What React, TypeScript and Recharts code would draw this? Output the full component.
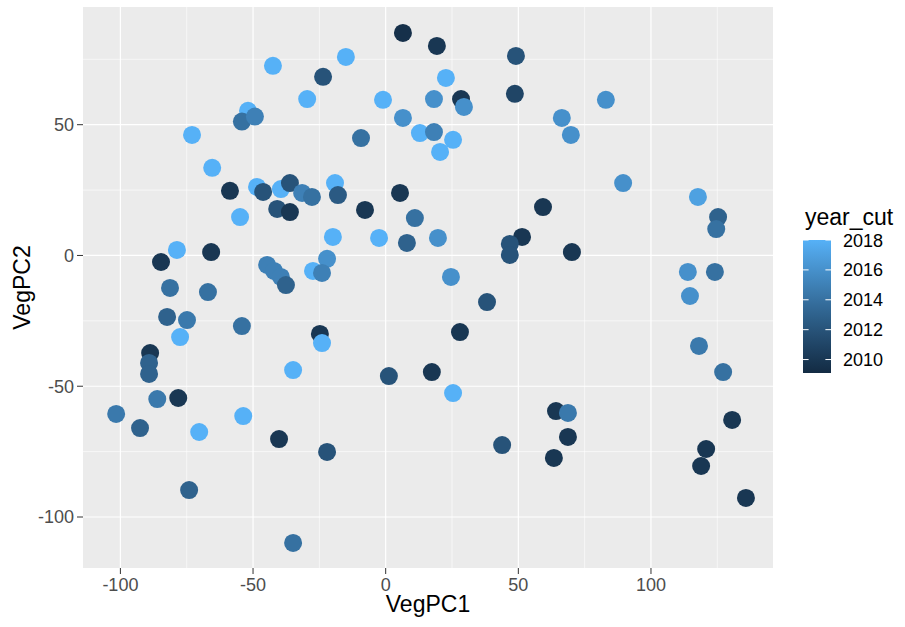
import React from 'react';
import { ScatterChart, Scatter, XAxis, YAxis, CartesianGrid } from 'recharts';

// VegPC1 / VegPC2 scores and the year of each site
const vegPC1 = [
  -42.5, -29.6, -51.9, -54.2, -49.3, -73.0, -65.4, -58.7, -48.5, -46.2,
  -39.5, -36.1, -31.5, -27.8, 6.5, 19.3, 49.1, -15.0, -23.6, 22.7,
  -1.0, 18.2, 28.4, 29.5, 48.7, 6.5, 12.9, 18.2, 25.4, 20.5,
  -9.3, -19.1, -18.0, 5.4, 83.0, 66.4, 69.8, 89.5, 117.7, 59.3,
  -54.9, -40.9, -36.1, -78.7, -84.7, -65.8, -81.3, -67.0, -44.7, -42.1,
  -39.5, -37.6, -82.4, -74.9, -77.5, -54.2, -88.8, -89.2, -89.2, -34.9,
  -7.8, 11.0, -19.9, -2.5, 8.0, 19.7, 51.4, 46.8, 46.8, -22.1,
  -27.4, -24.0, 24.6, 38.2, -24.8, -24.0, 28.0, 1.2, 17.4, 25.4,
  70.2, 125.3, 124.6, 113.9, 124.1, 114.7, 118.1, 127.2, -86.1, -78.2,
  -101.6, -92.6, -53.7, -70.3, -40.2, -74.1, -34.9, -22.1, 43.9, 64.2,
  68.7, 68.7, 63.4, 130.6, 120.8, 118.9, 135.8,
];
const vegPC2 = [
  72.5, 59.8, 55.3, 51.2, 53.1, 46.1, 33.5, 24.7, 26.2, 24.3,
  25.4, 27.7, 23.9, 22.4, 85.1, 80.1, 76.3, 75.9, 68.3, 67.9,
  59.5, 59.8, 59.8, 56.8, 61.8, 52.6, 46.8, 47.2, 44.2, 39.6,
  44.9, 27.7, 23.1, 23.9, 59.5, 52.6, 46.1, 27.7, 22.4, 18.5,
  14.7, 17.8, 16.6, 2.1, -2.5, 1.3, -12.4, -14.0, -3.6, -5.9,
  -8.2, -11.3, -23.5, -24.7, -31.2, -27.0, -37.3, -41.1, -45.3, -43.8,
  17.4, 14.3, 7.1, 6.7, 4.8, 6.7, 7.1, 4.4, 0.2, -1.3,
  -5.9, -6.7, -8.2, -17.8, -30.0, -33.5, -29.3, -46.1, -44.6, -52.6,
  1.3, 14.7, 10.1, -6.3, -6.3, -15.5, -34.6, -44.6, -54.9, -54.5,
  -60.6, -66.0, -61.4, -67.5, -70.2, -89.7, -109.9, -75.1, -72.5, -59.5,
  -60.2, -69.4, -77.4, -62.9, -74.0, -80.5, -92.7,
];
const yearCut = [
  2018, 2018, 2018, 2014, 2015, 2018, 2018, 2010, 2018, 2012,
  2018, 2012, 2015, 2014, 2009.5, 2010, 2012, 2018, 2012, 2018,
  2018, 2016, 2010, 2016, 2011, 2016, 2018, 2015, 2018, 2018,
  2014, 2018, 2012.5, 2010, 2016, 2016, 2016, 2016, 2017, 2010,
  2018, 2012, 2010, 2018, 2010, 2010, 2014, 2014, 2015, 2015,
  2015, 2013, 2013, 2014.5, 2018, 2014, 2010, 2013, 2013, 2018,
  2010, 2014, 2018, 2018, 2013, 2016, 2010, 2012, 2012, 2016,
  2018, 2015, 2016, 2012, 2010, 2018, 2010, 2012, 2010, 2018,
  2010, 2013, 2014, 2016, 2014, 2016, 2014.5, 2014, 2014.5, 2010,
  2014.5, 2013, 2018, 2018, 2010, 2013, 2014, 2012, 2012, 2010,
  2014.5, 2010, 2010, 2010, 2010, 2010, 2010,
];

const xTicks = [-100, -50, 0, 50, 100];
const yTicks = [-100, -50, 0, 50];
const xMinor = [-75, -25, 25, 75, 125];
const yMinor = [-75, -25, 25, 75];
const legendYears = [2010, 2012, 2014, 2016, 2018];

const xDomain = [-114.1, 146];
const yDomain = [-119.5, 95];
const yearRange = [2009.1, 2018];

// ggplot2 default continuous gradient, interpolated in Lab
const LOW = '#132B43';
const HIGH = '#56B1F7';

const hexToRgb = (h: string) => [1, 3, 5].map((i) => parseInt(h.slice(i, i + 2), 16));
const toLin = (c: number) => {
  c /= 255;
  return c <= 0.04045 ? c / 12.92 : Math.pow((c + 0.055) / 1.055, 2.4);
};
const fromLin = (c: number) => {
  const v = c <= 0.0031308 ? 12.92 * c : 1.055 * Math.pow(c, 1 / 2.4) - 0.055;
  return Math.round(Math.max(0, Math.min(1, v)) * 255);
};
const rgbToLab = ([r, g, b]: number[]) => {
  const R = toLin(r), G = toLin(g), B = toLin(b);
  const X = (0.4124 * R + 0.3576 * G + 0.1805 * B) / 0.95047;
  const Y = 0.2126 * R + 0.7152 * G + 0.0722 * B;
  const Z = (0.0193 * R + 0.1192 * G + 0.9505 * B) / 1.08883;
  const f = (t: number) => (t > 0.008856 ? Math.cbrt(t) : 7.787 * t + 16 / 116);
  return [116 * f(Y) - 16, 500 * (f(X) - f(Y)), 200 * (f(Y) - f(Z))];
};
const labToHex = ([L, a, b]: number[]) => {
  const fy = (L + 16) / 116, fx = fy + a / 500, fz = fy - b / 200;
  const inv = (t: number) => (t ** 3 > 0.008856 ? t ** 3 : (t - 16 / 116) / 7.787);
  const X = inv(fx) * 0.95047, Y = inv(fy), Z = inv(fz) * 1.08883;
  const R = 3.2406 * X - 1.5372 * Y - 0.4986 * Z;
  const G = -0.9689 * X + 1.8758 * Y + 0.0415 * Z;
  const B = 0.0557 * X - 0.204 * Y + 1.057 * Z;
  return '#' + [R, G, B].map((c) => fromLin(c).toString(16).padStart(2, '0')).join('');
};
const lowLab = rgbToLab(hexToRgb(LOW));
const highLab = rgbToLab(hexToRgb(HIGH));
const colorAt = (t: number) => {
  const k = Math.max(0, Math.min(1, t));
  return labToHex(lowLab.map((v, i) => v + (highLab[i] - v) * k));
};
const colorFor = (year: number) => colorAt((year - yearRange[0]) / (yearRange[1] - yearRange[0]));

const data = vegPC1.map((x, i) => ({ x, y: vegPC2[i], year: yearCut[i], fill: colorFor(yearCut[i]) }));

const FONT = '"Liberation Sans", Arial, sans-serif';

// colourbar geometry
const BAR_X = 803;
const BAR_W = 28;
const BAR_TOP = 240;
const BAR_H = 133;
const yearToBarY = (yr: number) =>
  BAR_TOP + BAR_H - ((yr - yearRange[0]) / (yearRange[1] - yearRange[0])) * BAR_H;

const Dot = (props: any) => {
  const { cx, cy, payload } = props;
  if (cx == null || cy == null) return null;
  return <circle cx={cx} cy={cy} r={9} fill={payload.fill} />;
};

const App: React.FC = () => {
  const stops = Array.from({ length: 11 }, (_, i) => i / 10);
  return (
    <div style={{ position: 'absolute', left: 0, top: 0, width: 905, height: 627, background: '#fff', fontFamily: FONT }}>
      <ScatterChart width={905} height={627} margin={{ top: 7, right: 132, bottom: 0, left: 0 }}>
        <CartesianGrid fill="#EBEBEB" stroke="#FFFFFF" strokeWidth={0.6} verticalValues={xMinor} horizontalValues={yMinor} />
        <CartesianGrid stroke="#FFFFFF" strokeWidth={1.2} verticalValues={xTicks} horizontalValues={yTicks} />
        <XAxis
          type="number"
          dataKey="x"
          domain={xDomain}
          ticks={xTicks}
          allowDataOverflow
          axisLine={false}
          tickLine={{ stroke: '#333333' }}
          tickSize={6}
          tickMargin={4}
          height={59}
          tick={{ fill: '#4D4D4D', fontSize: 18 }}
        />
        <YAxis
          type="number"
          dataKey="y"
          domain={yDomain}
          ticks={yTicks}
          allowDataOverflow
          axisLine={false}
          tickLine={{ stroke: '#333333' }}
          tickSize={6}
          tickMargin={3}
          width={83}
          tick={{ fill: '#4D4D4D', fontSize: 18 }}
        />
        <Scatter data={data} shape={Dot} isAnimationActive={false} />
      </ScatterChart>
      <svg width={905} height={627} style={{ position: 'absolute', left: 0, top: 0, pointerEvents: 'none' }}>
        <defs>
          <linearGradient id="yearGrad" x1="0" y1="1" x2="0" y2="0">
            {stops.map((s) => (
              <stop key={s} offset={s} stopColor={colorAt(s)} />
            ))}
          </linearGradient>
        </defs>
        <text x={428} y={612} textAnchor="middle" fontSize={23} fontFamily={FONT} fill="#000">
          VegPC1
        </text>
        <text
          x={29.5}
          y={287.5}
          textAnchor="middle"
          fontSize={23}
          fontFamily={FONT}
          fill="#000"
          transform="rotate(-90 29.5 287.5)"
        >
          VegPC2
        </text>
        <text x={805} y={225} fontSize={23} fontFamily={FONT} fill="#000">
          year_cut
        </text>
        <rect x={BAR_X} y={BAR_TOP} width={BAR_W} height={BAR_H} fill="url(#yearGrad)" />
        {legendYears.map((yr) => {
          const y = yearToBarY(yr);
          return (
            <g key={yr}>
              <line x1={BAR_X} x2={BAR_X + 5.6} y1={y} y2={y} stroke="#fff" strokeWidth={1} />
              <line x1={BAR_X + BAR_W - 5.6} x2={BAR_X + BAR_W} y1={y} y2={y} stroke="#fff" strokeWidth={1} />
              <text x={843} y={y + 6.5} fontSize={18} fontFamily={FONT} fill="#000">
                {yr}
              </text>
            </g>
          );
        })}
      </svg>
    </div>
  );
};

export default App;
